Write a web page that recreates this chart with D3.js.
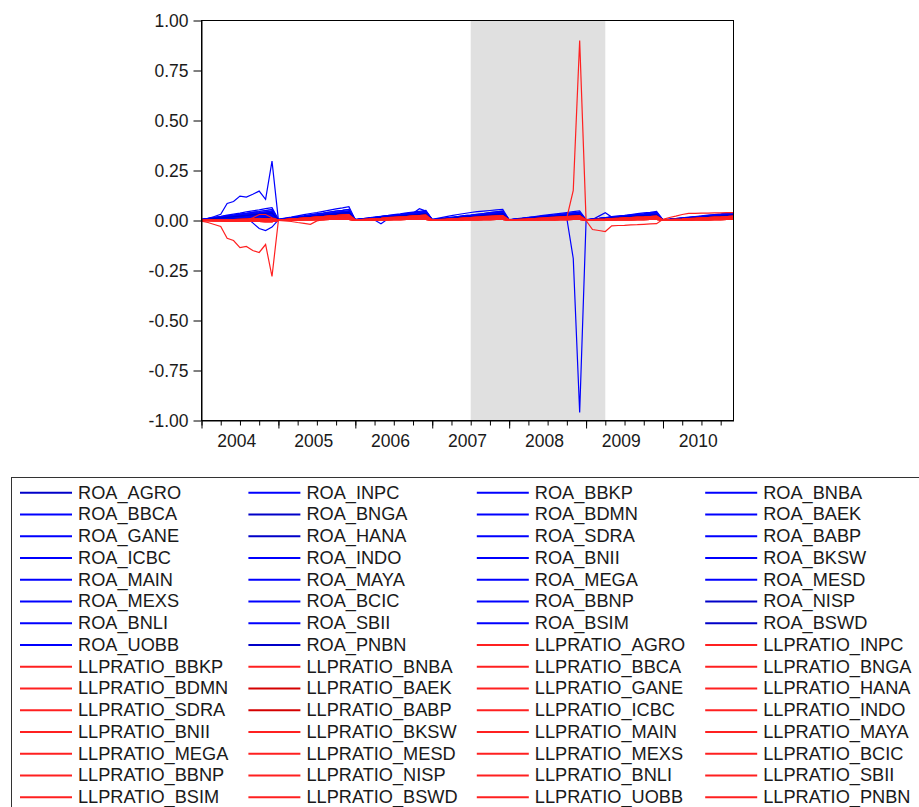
<!DOCTYPE html>
<html>
<head>
<meta charset="utf-8">
<script src="https://cdnjs.cloudflare.com/ajax/libs/d3/7.8.5/d3.min.js"></script>
<style>
  body { margin: 0; background: #fff; }
  svg { display: block; }
  text { font-family: "Liberation Sans", Arial, sans-serif; fill: #1a1a1a; }
</style>
</head>
<body>
<div id="chart"></div>
<script>
// monthly observations 2004M01 .. 2010M12 (index 0..83)
const years = [2004, 2005, 2006, 2007, 2008, 2009, 2010];
const yTicks = [1, 0.75, 0.5, 0.25, 0, -0.25, -0.5, -0.75, -1];
const shadeFrom = 42; // 2007M07
const shadeTo = 63;   // 2009M04

const banks = ["AGRO","INPC","BBKP","BNBA","BBCA","BNGA","BDMN","BAEK","GANE","HANA",
  "SDRA","BABP","ICBC","INDO","BNII","BKSW","MAIN","MAYA","MEGA","MESD",
  "MEXS","BCIC","BBNP","NISP","BNLI","SBII","BSIM","BSWD","UOBB","PNBN"];

// ROA, year-to-date (groups of banks overlap in the fan)
const roaP1 = [
  .005,.011,.016,.021,.027,.032,.037,.043,.048,.053,.059,.064,
  .006,.012,.017,.023,.029,.035,.040,.046,.052,.058,.063,.069,
  .004,.008,.013,.017,.021,.025,.029,.033,.038,.042,.046,.050,
  .006,.012,.018,.024,.030,.035,.040,.044,.047,.050,.053,.056,
  .004,.008,.012,.016,.020,.024,.028,.032,.036,.040,.044,.048,
  .004,.008,.011,.015,.019,.023,.026,.030,.034,.038,.041,.045,
  .003,.007,.010,.013,.017,.020,.023,.027,.030,.033,.037,.040];
const roaP2 = [
  .004,.009,.014,.018,.023,.027,.032,.036,.041,.045,.050,.054,
  .005,.009,.014,.019,.023,.028,.033,.037,.042,.047,.051,.056,
  .004,.008,.011,.015,.019,.023,.026,.030,.034,.038,.041,.045,
  .004,.008,.012,.016,.020,.024,.027,.031,.035,.039,.043,.047,
  .003,.007,.010,.014,.017,.021,.024,.027,.031,.034,.038,.041,
  .003,.007,.010,.013,.017,.020,.023,.027,.030,.033,.037,.040,
  .003,.006,.009,.012,.015,.018,.021,.024,.027,.030,.033,.036];
const roaP3 = [
  .004,.008,.012,.015,.019,.023,.027,.031,.035,.038,.042,.046,
  .004,.008,.012,.016,.020,.024,.027,.031,.035,.039,.043,.047,
  .003,.007,.010,.013,.017,.020,.023,.027,.030,.033,.037,.040,
  .003,.007,.010,.013,.017,.020,.023,.027,.030,.033,.037,.040,
  .003,.006,.009,.012,.015,.018,.020,.023,.026,.029,.032,.035,
  .003,.006,.009,.012,.015,.018,.020,.023,.026,.029,.032,.035,
  .003,.005,.008,.011,.013,.016,.019,.021,.024,.027,.029,.032];
const roaP4 = [
  .003,.006,.010,.013,.016,.019,.022,.025,.029,.032,.035,.038,
  .003,.007,.010,.013,.017,.020,.023,.027,.030,.033,.037,.040,
  .003,.006,.009,.011,.014,.017,.020,.023,.026,.028,.031,.034,
  .003,.006,.009,.011,.014,.017,.020,.023,.026,.028,.031,.034,
  .003,.005,.008,.010,.013,.015,.018,.020,.023,.025,.028,.030,
  .003,.005,.008,.010,.013,.015,.018,.020,.023,.025,.028,.030,
  .002,.005,.007,.009,.012,.014,.016,.019,.021,.023,.026,.028];
const roaP5 = [
  .003,.005,.008,.010,.013,.016,.018,.021,.023,.026,.028,.031,
  .003,.005,.008,.011,.013,.016,.019,.021,.024,.027,.029,.032,
  .002,.005,.007,.009,.012,.014,.016,.019,.021,.023,.026,.028,
  .002,.005,.007,.009,.012,.014,.016,.019,.021,.023,.026,.028,
  .002,.004,.006,.008,.010,.013,.015,.017,.019,.021,.023,.025,
  .002,.004,.006,.008,.010,.013,.015,.017,.019,.021,.023,.025,
  .002,.004,.006,.008,.010,.012,.014,.016,.018,.020,.022,.024];
const roaP6 = [
  .002,.004,.006,.008,.010,.012,.014,.016,.018,.020,.022,.024,
  .002,.004,.006,.008,.010,.013,.015,.017,.019,.021,.023,.025,
  .002,.004,.006,.007,.009,.011,.013,.015,.017,.018,.020,.022,
  .002,.004,.006,.007,.009,.011,.013,.015,.017,.018,.020,.022,
  .002,.003,.005,.007,.008,.010,.012,.013,.015,.017,.018,.020,
  .002,.003,.005,.007,.008,.010,.012,.013,.015,.017,.018,.020,
  .002,.003,.005,.006,.008,.010,.011,.013,.014,.016,.017,.019];
const roaP7 = [
  .001,.002,.004,.005,.006,.007,.008,.009,.011,.012,.013,.014,
  .001,.003,.004,.005,.006,.008,.009,.010,.011,.013,.014,.015,
  .001,.002,.003,.004,.005,.007,.008,.009,.010,.011,.012,.013,
  .001,.002,.004,.005,.006,.007,.008,.009,.011,.012,.013,.014,
  .001,.002,.003,.004,.005,.006,.007,.008,.009,.010,.011,.012,
  .001,.002,.003,.004,.005,.007,.008,.009,.010,.011,.012,.013,
  .001,.002,.003,.004,.005,.006,.007,.008,.009,.010,.011,.012];
const roaInpc = [
  .003,.010,.020,.031,.085,.095,.122,.117,.131,.147,.106,.297,
  .002,.004,.006,.008,.010,.013,.015,.017,.019,.021,.023,.025,
  .002,.004,.006,.007,.009,.011,.013,.015,.017,.018,.020,.022,
  .002,.004,.006,.007,.009,.011,.013,.015,.017,.018,.020,.022,
  .002,.003,.005,.007,.008,.010,.012,.013,.015,.017,.018,.020,
  .002,.003,.005,.007,.008,.010,.012,.013,.015,.017,.018,.020,
  .002,.003,.005,.006,.008,.010,.011,.013,.014,.016,.017,.019];
const roaBnli = [
  .002,.004,.005,.007,.009,.011,.012,.014,-.012,-.040,-.050,-.033,
  .003,.005,.008,.011,.013,.016,.019,.021,.024,.027,.029,.032,
  .002,.004,.003,.002,-.016,.006,.009,.012,.015,.018,.021,.024,
  .002,.005,.007,.009,.012,.014,.016,.019,.021,.023,.026,.028,
  .002,.004,.006,.008,.010,.013,.015,.017,.019,.021,.023,.025,
  .002,.004,.006,.008,.010,.013,.015,.017,.019,.021,.023,.025,
  .002,.004,.006,.008,.010,.012,.014,.016,.018,.020,.022,.024];
const roaBsim = [
  .003,.006,.010,.013,.016,.019,.022,.025,.029,.032,.035,.038,
  .003,.007,.010,.013,.017,.020,.023,.027,.030,.033,.037,.040,
  .004,.008,.012,.016,.020,.024,.027,.030,.033,.036,.059,.047,
  .003,.006,.009,.011,.014,.017,.020,.023,.026,.028,.031,.034,
  .003,.005,.008,.010,.013,.015,.018,.020,.023,.025,.028,.030,
  .003,.005,.008,.010,.013,.015,.018,.020,.023,.025,.028,.030,
  .002,.005,.007,.009,.012,.014,.016,.019,.021,.023,.026,.028];
const roaBcic = [
  .002,.004,.006,.008,.010,.012,.014,.016,.018,.020,.022,.024,
  .002,.004,.006,.008,.010,.013,.015,.017,.019,.021,.023,.025,
  .002,.004,.006,.007,.009,.011,.013,.015,.017,.018,.020,.022,
  .002,.004,.006,.007,.009,.011,.013,.015,.017,.018,.020,.022,
  .002,.003,.005,.006,.008,.009,.010,.011,.012,.010,-.190,-.960,
  .000,.005,.022,.039,.017,.019,.021,.024,.027,.030,.032,.035,
  .002,.004,.006,.008,.010,.012,.014,.016,.018,.020,.022,.024];

// LLP ratio, year-to-date
const llpL1 = [
  .001,.002,.003,.003,.004,.005,.006,.007,.008,.008,.009,.010,
  .003,.005,.008,.010,.013,.015,.018,.020,.023,.025,.028,.030,
  .002,.005,.007,.009,.011,.014,.016,.018,.020,.023,.025,.027,
  .002,.004,.006,.008,.010,.013,.015,.017,.019,.021,.023,.025,
  .002,.004,.006,.008,.010,.012,.014,.016,.018,.020,.022,.024,
  .002,.004,.006,.007,.009,.011,.013,.015,.017,.018,.020,.022,
  .002,.004,.006,.007,.009,.011,.013,.015,.017,.018,.020,.022];
const llpL2 = [
  .001,.001,.002,.003,.003,.004,.005,.005,.006,.007,.007,.008,
  .002,.004,.006,.008,.010,.012,.014,.016,.018,.020,.022,.024,
  .002,.004,.005,.007,.009,.011,.012,.014,.016,.018,.019,.021,
  .002,.003,.005,.007,.008,.010,.012,.013,.015,.017,.018,.020,
  .002,.003,.005,.006,.008,.010,.011,.013,.014,.016,.017,.019,
  .002,.003,.005,.006,.008,.009,.011,.012,.014,.015,.017,.018,
  .002,.003,.005,.006,.008,.009,.011,.012,.014,.015,.017,.018];
const llpL3 = [
  .000,.001,.001,.002,.002,.003,.003,.003,.004,.004,.005,.005,
  .002,.003,.005,.006,.008,.009,.011,.012,.014,.015,.017,.018,
  .001,.003,.004,.005,.007,.008,.009,.011,.012,.013,.015,.016,
  .001,.003,.004,.005,.006,.008,.009,.010,.011,.013,.014,.015,
  .001,.002,.004,.005,.006,.007,.008,.009,.011,.012,.013,.014,
  .001,.002,.004,.005,.006,.007,.008,.009,.011,.012,.013,.014,
  .001,.002,.003,.004,.005,.007,.008,.009,.010,.011,.012,.013];
const llpL4 = [
  .000,.000,.001,.001,.001,.001,.001,.001,.002,.002,.002,.002,
  .001,.002,.003,.004,.005,.006,.007,.008,.009,.010,.011,.012,
  .001,.002,.003,.004,.005,.006,.006,.007,.008,.009,.010,.011,
  .001,.002,.003,.003,.004,.005,.006,.007,.008,.008,.009,.010,
  .001,.002,.003,.003,.004,.005,.006,.007,.008,.008,.009,.010,
  .001,.002,.002,.003,.004,.005,.005,.006,.007,.008,.008,.009,
  .001,.002,.002,.003,.004,.005,.005,.006,.007,.008,.008,.009];
const llpL5 = [
  -.001,-.001,-.002,-.002,-.003,-.003,-.004,-.004,-.005,-.005,-.006,-.006,
  .001,.001,.002,.002,.003,.003,.004,.004,.005,.005,.006,.006,
  .001,.001,.002,.002,.003,.003,.004,.004,.005,.005,.006,.006,
  .000,.001,.001,.002,.002,.003,.003,.003,.004,.004,.005,.005,
  .000,.001,.001,.002,.002,.003,.003,.003,.004,.004,.005,.005,
  .000,.001,.001,.002,.002,.003,.003,.003,.004,.004,.005,.005,
  .000,.001,.001,.002,.002,.003,.003,.003,.004,.004,.005,.005];
const llpInpc = [
  -.003,-.010,-.020,-.030,-.089,-.100,-.136,-.130,-.150,-.160,-.120,-.280,
  .001,.002,.003,.004,.005,.006,.007,.008,.009,.010,.011,.012,
  .001,.002,.003,.004,.005,.006,.006,.007,.008,.009,.010,.011,
  .001,.002,.003,.003,.004,.005,.006,.007,.008,.008,.009,.010,
  .001,.002,.003,.003,.004,.005,.006,.007,.008,.008,.009,.010,
  .001,.002,.002,.003,.004,.005,.005,.006,.007,.008,.008,.009,
  .001,.002,.002,.003,.004,.005,.005,.006,.007,.008,.008,.009];
const llpBnli = [
  .000,.000,.001,.001,.001,.001,.002,.002,.014,.030,.030,.014,
  .002,.003,.005,.006,.008,.009,.011,.012,.014,.015,.017,.018,
  .001,.003,.004,.005,.007,.008,.009,.011,.012,.013,.015,.016,
  .001,.003,.004,.005,.006,.008,.009,.010,.011,.013,.014,.015,
  .001,.002,.004,.005,.006,.007,.008,.009,.011,.012,.013,.014,
  .001,.002,.004,.005,.006,.007,.008,.009,.011,.012,.013,.014,
  .001,.002,.003,.004,.005,.007,.008,.009,.010,.011,.012,.013];
const llpBcic = [
  .000,.001,.001,.002,.002,.003,.003,.003,.004,.004,.005,.005,
  .002,.003,.005,.006,.008,.009,.011,.012,.014,.015,.017,.018,
  .001,.003,.004,.005,.007,.008,.009,.011,.012,.013,.015,.016,
  .001,.003,.004,.005,.006,.008,.009,.010,.011,.013,.014,.015,
  .001,.002,.004,.005,.006,.007,.008,.009,.011,.014,.150,.900,
  .000,-.045,-.050,-.055,-.027,-.025,-.024,-.022,-.021,-.019,-.017,-.016,
  .006,.015,.022,.030,.036,.036,.037,.037,.038,.038,.039,.039];
const llpGane = [
  .001,.001,.002,.003,.003,.004,.005,.005,.006,.007,.007,.008,
  .000,-.002,-.005,-.010,-.014,-.019,-.002,.004,.008,.011,.014,.018,
  .002,.004,.005,.007,.009,.011,.012,.014,.016,.018,.019,.021,
  .002,.003,.005,.007,.008,.010,.012,.013,.015,.017,.018,.020,
  .002,.003,.005,.006,.008,.010,.011,.013,.014,.016,.017,.019,
  .002,.003,.005,.006,.008,.009,.011,.012,.014,.015,.017,.018,
  .002,.003,.005,.006,.008,.009,.011,.012,.014,.015,.017,.018];

const roaOf = {AGRO: roaP5, INPC: roaInpc, BBKP: roaP3, BNBA: roaP6, BBCA: roaP1, BNGA: roaP4,
  BDMN: roaP2, BAEK: roaP5, GANE: roaP7, HANA: roaP6, SDRA: roaP3, BABP: roaP7, ICBC: roaP6,
  INDO: roaP4, BNII: roaP5, BKSW: roaP2, MAIN: roaP6, MAYA: roaP5, MEGA: roaP4, MESD: roaP7,
  MEXS: roaP3, BCIC: roaBcic, BBNP: roaP5, NISP: roaP4, BNLI: roaBnli, SBII: roaP6,
  BSIM: roaBsim, BSWD: roaP7, UOBB: roaP3, PNBN: roaP4};
const llpOf = {AGRO: llpL3, INPC: llpInpc, BBKP: llpL2, BNBA: llpL4, BBCA: llpL5, BNGA: llpL3,
  BDMN: llpL1, BAEK: llpL2, GANE: llpGane, HANA: llpL4, SDRA: llpL3, BABP: llpL1, ICBC: llpL5,
  INDO: llpL4, BNII: llpL2, BKSW: llpL3, MAIN: llpL4, MAYA: llpL2, MEGA: llpL5, MESD: llpL4,
  MEXS: llpL1, BCIC: llpBcic, BBNP: llpL3, NISP: llpL4, BNLI: llpBnli, SBII: llpL5,
  BSIM: llpL2, BSWD: llpL3, UOBB: llpL4, PNBN: llpL5};
const roaDark = ["AGRO", "BNGA", "HANA", "NISP", "BSWD", "PNBN"];
const llpDark = ["BAEK", "BABP"];

const series = banks.map(b => ({name: "ROA_" + b, values: roaOf[b],
    color: roaDark.includes(b) ? "#0000c8" : "#0000ff"}))
  .concat(banks.map(b => ({name: "LLPRATIO_" + b, values: llpOf[b],
    color: llpDark.includes(b) ? "#d40000" : "#ff2020"})));

const width = 919, height = 807;
const svg = d3.select("#chart").append("svg")
  .attr("width", width)
  .attr("height", height);

const x = d3.scaleLinear().domain([0, 83]).range([201.5, 733.5]);
const y = d3.scaleLinear().domain([-1, 1]).range([420.5, 20.5]);

// shaded period
svg.append("rect")
  .attr("x", x(shadeFrom))
  .attr("y", y(1))
  .attr("width", x(shadeTo) - x(shadeFrom))
  .attr("height", y(-1) - y(1))
  .attr("fill", "#000")
  .attr("fill-opacity", 0.12);

// lines
const line = d3.line()
  .x((d, i) => x(i))
  .y(d => y(d));
svg.append("g")
  .selectAll("path")
  .data(series)
  .enter()
  .append("path")
  .attr("d", d => line(d.values))
  .attr("fill", "none")
  .attr("stroke", d => d.color)
  .attr("stroke-width", 1.2);

// frame
svg.append("rect")
  .attr("x", x(0)).attr("y", y(1))
  .attr("width", x(83) - x(0)).attr("height", y(-1) - y(1))
  .attr("fill", "none").attr("stroke", "#000").attr("stroke-width", 1);

// y axis
const yAxis = svg.append("g")
  .attr("transform", `translate(${x(0)},0)`)
  .call(d3.axisLeft(y).tickValues(yTicks).tickFormat(d => d.toFixed(2))
    .tickSize(8).tickSizeOuter(0).tickPadding(5));
yAxis.selectAll("text").style("font-size", "17.5px").attr("fill", "#1a1a1a");

// x axis: quarter ticks, longer year ticks
svg.append("g")
  .attr("transform", `translate(0,${y(-1)})`)
  .call(d3.axisBottom(x).tickValues(d3.range(0, 84, 3)).tickFormat("")
    .tickSize(5).tickSizeOuter(0));
svg.append("g")
  .attr("transform", `translate(0,${y(-1)})`)
  .call(d3.axisBottom(x).tickValues(d3.range(0, 84, 12)).tickFormat("")
    .tickSize(8).tickSizeOuter(0))
  .select(".domain").remove();
svg.append("g")
  .selectAll("text")
  .data(years)
  .enter()
  .append("text")
  .attr("x", (d, i) => x(i * 12 + 5.5))
  .attr("y", 447)
  .attr("text-anchor", "middle")
  .style("font-size", "17.5px")
  .text(d => d);

// legend
const legend = svg.append("g");
legend.append("rect")
  .attr("x", 11.5).attr("y", 477.5)
  .attr("width", 930).attr("height", 400)
  .attr("fill", "none")
  .attr("stroke", "#333");
const colX = [20, 248.4, 476.8, 705.2];
const rowY = r => 492.7 + r * 21.76;
const item = legend.selectAll("g.item")
  .data(series)
  .enter()
  .append("g")
  .attr("class", "item")
  .attr("transform", (d, i) => `translate(${colX[i % 4]},${rowY(Math.floor(i / 4))})`);
item.append("line")
  .attr("x1", 0).attr("x2", 52)
  .attr("stroke", d => d.color)
  .attr("stroke-width", 2);
item.append("text")
  .attr("x", 58)
  .attr("y", 5.8)
  .style("font-size", "18.2px")
  .text(d => d.name);
</script>
</body>
</html>
